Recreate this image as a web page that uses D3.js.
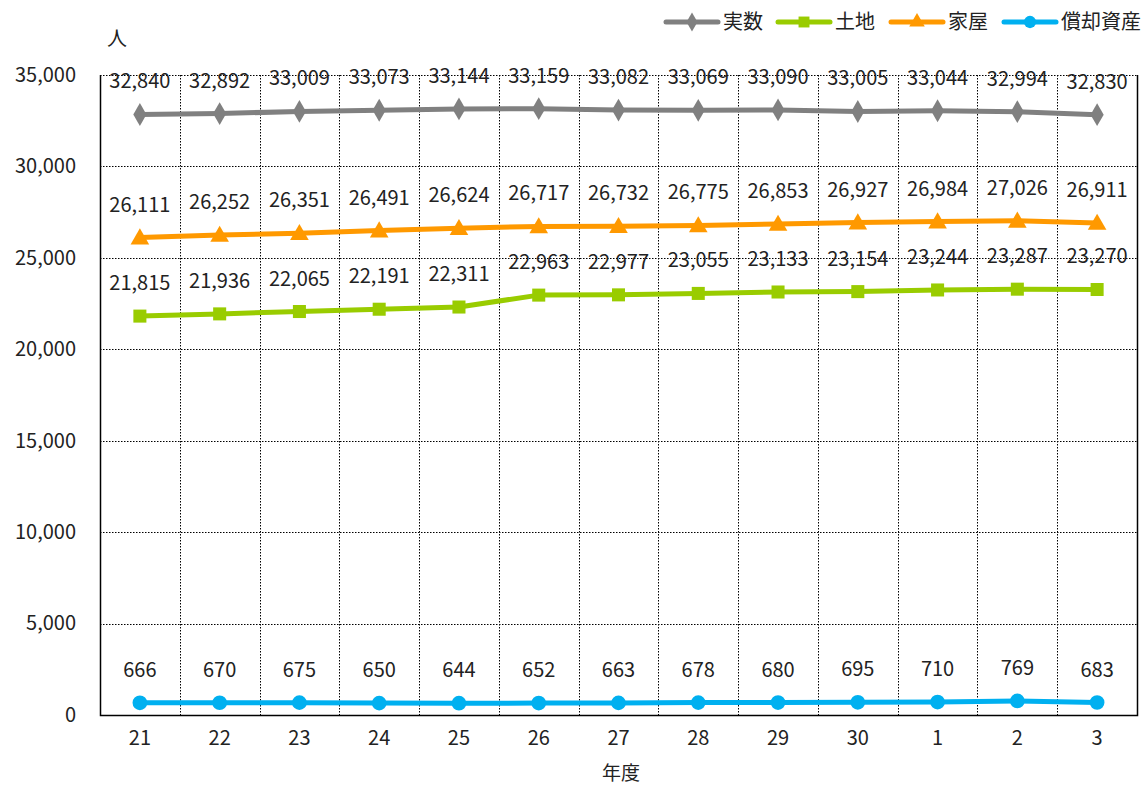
<!DOCTYPE html>
<html>
<head>
<meta charset="utf-8">
<script src="https://cdn.jsdelivr.net/npm/d3@7"></script>
<style>
  html, body { margin: 0; padding: 0; background: #fff; }
  svg text { font-family: "Noto Sans CJK JP", "Noto Sans", sans-serif; fill: #222; }
</style>
</head>
<body>
<svg id="chart" width="1148" height="787"></svg>
<script>
// Fiscal years (Heisei 21–30, Reiwa 1–3)
const years = ["21","22","23","24","25","26","27","28","29","30","1","2","3"];

const jissu   = [32840,32892,33009,33073,33144,33159,33082,33069,33090,33005,33044,32994,32830];
const tochi   = [21815,21936,22065,22191,22311,22963,22977,23055,23133,23154,23244,23287,23270];
const kaoku   = [26111,26252,26351,26491,26624,26717,26732,26775,26853,26927,26984,27026,26911];
const shokyaku= [666,670,675,650,644,652,663,678,680,695,710,769,683];

const yTicks = [0,5000,10000,15000,20000,25000,30000,35000];

const seriesNames = ["実数","土地","家屋","償却資産"];
const seriesValues = [jissu, tochi, kaoku, shokyaku];
const seriesColors = ["#808080","#99CC00","#FF9900","#00B0F0"];
const seriesSymbols = [d3.symbolDiamond, d3.symbolSquare, d3.symbolTriangle, d3.symbolCircle];
const symbolSizes = [150, 170, 150, 170];

const svg = d3.select("#chart");
const plotL = 100, plotR = 1137, plotT = 75, plotB = 715;

const x = d3.scaleBand().domain(years).range([plotL, plotR]).padding(0);
const y = d3.scaleLinear().domain([0, 35000]).range([plotB, plotT]);
const cx = d => x(d) + x.bandwidth() / 2;

// dotted grid
const grid = svg.append("g");
grid.selectAll("line.h").data(yTicks.filter(t => t > 0)).join("line")
  .attr("x1", plotL).attr("x2", plotR)
  .attr("y1", d => Math.round(y(d)) + 0.5).attr("y2", d => Math.round(y(d)) + 0.5)
  .attr("stroke", "#000").attr("stroke-width", 1).attr("stroke-dasharray", "1.5,1.5");
grid.selectAll("line.v").data(years.slice(1)).join("line")
  .attr("x1", d => Math.round(x(d)) + 0.5).attr("x2", d => Math.round(x(d)) + 0.5)
  .attr("y1", plotT).attr("y2", plotB)
  .attr("stroke", "#000").attr("stroke-width", 1).attr("stroke-dasharray", "1.5,1.5");

// frame: left, bottom, right solid
svg.append("path")
  .attr("d", `M${plotL+0.5},${plotT} V${plotB+0.5} H${plotR+0.5} V${plotT}`)
  .attr("fill", "none").attr("stroke", "#000").attr("stroke-width", 1.5);

// y axis labels
const yAxis = d3.axisLeft(y).tickValues(yTicks).tickSize(0).tickPadding(24)
  .tickFormat(d3.format(","));
const gy = svg.append("g").attr("transform", `translate(${plotL},0)`).call(yAxis);
gy.select(".domain").remove();
gy.selectAll("text").attr("font-size", 20).style("font-family", '"Noto Sans CJK JP", sans-serif').attr("fill", "#222");

// x axis labels
const xAxis = d3.axisBottom(x).tickSize(0).tickPadding(16);
const gx = svg.append("g").attr("transform", `translate(0,${plotB})`).call(xAxis);
gx.select(".domain").remove();
gx.selectAll("text").attr("font-size", 20).style("font-family", '"Noto Sans CJK JP", sans-serif').attr("fill", "#222");

// axis titles
svg.append("text").attr("x", 117).attr("y", 46).attr("text-anchor", "middle")
  .attr("font-size", 20).text("人");
svg.append("text").attr("x", 621).attr("y", 780).attr("text-anchor", "middle")
  .attr("font-size", 19).text("年度");

// series
const line = d3.line().x((d, i) => cx(years[i])).y(d => y(d));
seriesValues.forEach((vals, s) => {
  const g = svg.append("g");
  g.append("path").datum(vals).attr("d", line)
    .attr("fill", "none").attr("stroke", seriesColors[s]).attr("stroke-width", 5)
    .attr("stroke-linejoin", "round");
  g.selectAll("path.m").data(vals).join("path")
    .attr("transform", (d, i) => `translate(${cx(years[i])},${y(d) + (s === 2 ? 1.5 : 0)})`)
    .attr("d", d3.symbol().type(seriesSymbols[s]).size(symbolSizes[s]))
    .attr("fill", seriesColors[s]);
  g.selectAll("text").data(vals).join("text")
    .attr("x", (d, i) => cx(years[i]))
    .attr("y", d => y(d) - 26)
    .attr("text-anchor", "middle").attr("font-size", 20)
    .text(d => d3.format(",")(d));
});

// legend
const legendX = [666, 778, 891, 1004];
const lg = svg.append("g");
seriesNames.forEach((name, s) => {
  const lx = legendX[s], ly = 22;
  lg.append("line").attr("x1", lx).attr("x2", lx + 52).attr("y1", ly).attr("y2", ly)
    .attr("stroke", seriesColors[s]).attr("stroke-width", 5).attr("stroke-linecap", "round");
  lg.append("path").attr("transform", `translate(${lx + 26},${ly})`)
    .attr("d", d3.symbol().type(seriesSymbols[s]).size(symbolSizes[s] * 0.7))
    .attr("fill", seriesColors[s]);
  lg.append("text").attr("x", lx + 57).attr("y", ly + 7).attr("font-size", 20).text(name);
});
</script>
</body>
</html>
